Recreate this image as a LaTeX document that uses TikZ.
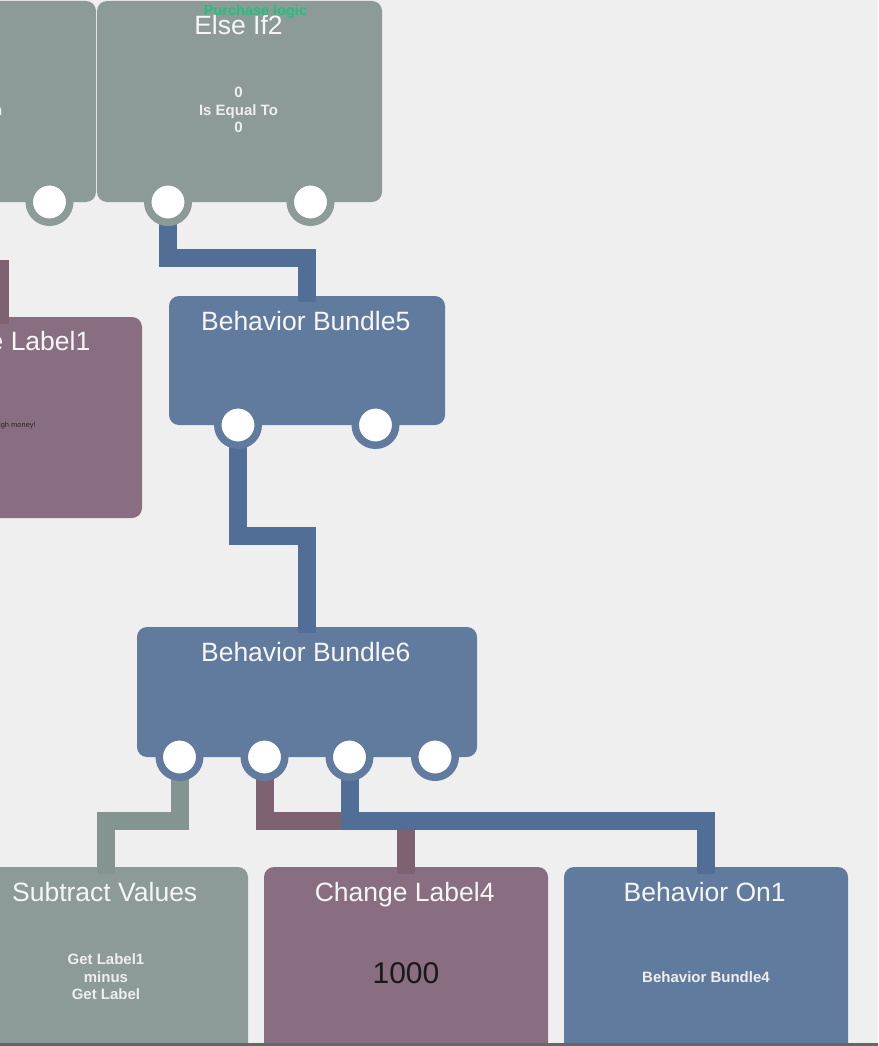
\documentclass[tikz,border=0pt]{standalone}
\usepackage{fontspec}
\setmainfont{Liberation Sans}
\pgfdeclarelayer{bg}
\pgfdeclarelayer{wires}
\pgfsetlayers{bg,wires,main}
\definecolor{bgc}{HTML}{EFEFEF}
\definecolor{grayBox}{HTML}{8C9A98}
\definecolor{grayWire}{HTML}{849591}
\definecolor{purpBox}{HTML}{886E80}
\definecolor{purpWire}{HTML}{7E6272}
\definecolor{blueBox}{HTML}{617B9F}
\definecolor{blueWire}{HTML}{516E96}
\definecolor{txtw}{HTML}{F6F6F6}
\definecolor{txtb}{HTML}{EEEEEE}
\definecolor{greenTxt}{HTML}{22C07F}
\definecolor{edge}{HTML}{666666}
\begin{document}
\begin{tikzpicture}[x=1pt,y=-1pt,
  box/.style={rectangle, rounded corners=10pt, inner sep=0pt, draw=none},
  ttl/.style={font=\fontsize{26.5}{30}\selectfont, text=txtw, anchor=base, inner sep=0pt},
  body/.style={font=\bfseries\fontsize{15}{17.5}\selectfont, text=txtb, align=center, inner sep=0pt},
  port/.style={circle, fill=white, line width=7.5pt, minimum size=40.5pt, inner sep=0pt},
  wire/.style={line width=18pt, line cap=butt, line join=miter}]
\useasboundingbox (0,0) rectangle (878,1046);
\begin{pgfonlayer}{bg}
\fill[bgc] (0,0) rectangle (878,1046);
% boxes
\node[box, fill=grayBox, minimum width=285pt, minimum height=201pt] (ifbox) at (-46.5,101.5) {};
\node[box, fill=grayBox, minimum width=285pt, minimum height=201pt] (elseif) at (239.5,101.5) {};
\node[box, fill=purpBox, minimum width=285pt, minimum height=201pt] (cl1) at (-0.5,417.5) {};
\node[box, fill=blueBox, minimum width=276pt, minimum height=129pt] (bb5) at (307,360.5) {};
\node[box, fill=blueBox, minimum width=340pt, minimum height=130pt] (bb6) at (307,692) {};
\node[box, fill=grayBox, minimum width=284pt, minimum height=233pt] (sv) at (106,983.5) {};
\node[box, fill=purpBox, minimum width=284pt, minimum height=233pt] (cl4) at (406,983.5) {};
\node[box, fill=blueBox, minimum width=284pt, minimum height=233pt] (bo1) at (706,983.5) {};
\end{pgfonlayer}

% titles
\node[ttl] (elseif-t) at (238.5,34.5) {Else If2};
\node[ttl] (cl1-t) at (0.5,350) {Change Label1};
\node[ttl] (bb5-t) at (305.7,330) {Behavior Bundle5};
\node[ttl] (bb6-t) at (305.7,661.5) {Behavior Bundle6};
\node[ttl] (sv-t) at (104.7,901.5) {Subtract Values};
\node[ttl] (cl4-t) at (404.7,901.5) {Change Label4};
\node[ttl] (bo1-t) at (704.7,901.5) {Behavior On1};

% bodies
\node[body, anchor=base east] (if-b) at (2.5,116) {Is Greater Than};
\node[body] (elseif-b) at (238.5,110) {0\\Is Equal To\\0};
\node[anchor=base east, inner sep=0pt, font=\fontsize{7.5}{9}\selectfont, text=black!85] (cl1-b) at (36,427.5) {Not enough money!};
\node[body] (sv-b) at (106,977) {Get Label1\\minus\\Get Label};
\node[inner sep=0pt, font=\fontsize{30}{34}\selectfont, text=black!90] (cl4-b) at (406,973.5) {1000};
\node[body] (bo1-b) at (706,977) {Behavior Bundle4};

% group label
\node[inner sep=0pt, font=\bfseries\fontsize{14.5}{16}\selectfont, text=greenTxt] (grp) at (255.5,11.5) {Purchase logic};

% ports
\node[port, draw=grayBox] (if-p2) at (49.5,202) {};
\node[port, draw=grayBox] (elseif-p1) at (168,202) {};
\node[port, draw=grayBox] (elseif-p2) at (310.5,202) {};
\node[port, draw=blueBox] (bb5-p1) at (238,425) {};
\node[port, draw=blueBox] (bb5-p2) at (375.5,425) {};
\node[port, draw=blueBox] (bb6-p1) at (179.5,757) {};
\node[port, draw=blueBox] (bb6-p2) at (264.5,757) {};
\node[port, draw=blueBox] (bb6-p3) at (349.5,757) {};
\node[port, draw=blueBox] (bb6-p4) at (435,757) {};

% connector end points
\coordinate (cl1-from) at (-60,269);
\coordinate (cl1-in) at (-0.5,324);
\coordinate (bb5-in) at (307,302);
\coordinate (bb6-in) at (307,633);
\coordinate (sv-in) at (106,874);
\coordinate (cl4-in) at (406,874);
\coordinate (bo1-in) at (706,874);

\begin{pgfonlayer}{wires}
\draw[wire, purpWire] (cl1-from) -| (cl1-in);
\draw[wire, blueWire] (elseif-p1.center) -- ++(0,56) -| (bb5-in);
\draw[wire, blueWire] (bb5-p1.center) -- ++(0,110.5) -| (bb6-in);
\draw[wire, grayWire] (bb6-p1.center) -- ++(0,63.5) -| (sv-in);
\draw[wire, purpWire] (bb6-p2.center) -- ++(0,63.5) -| (cl4-in);
\draw[wire, blueWire] (bb6-p3.center) -- ++(0,63.5) -| (bo1-in);
\end{pgfonlayer}

% bottom window edge
\fill[edge] (0,1042.5) rectangle (878,1046);
\end{tikzpicture}
\end{document}
